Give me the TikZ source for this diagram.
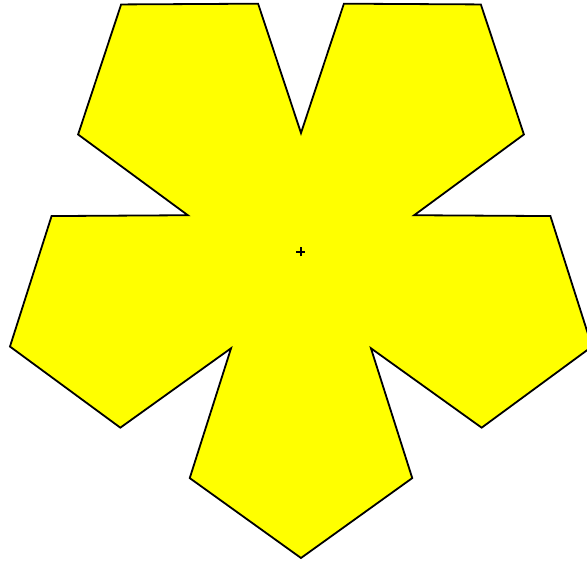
\documentclass[tikz,border=0pt]{standalone}
\definecolor{petalyellow}{RGB}{255,255,0}
\begin{document}
\begin{tikzpicture}[x=1pt,y=1pt]
  \useasboundingbox (-301,-310) rectangle (286,252);
  \clip (-301,-310) rectangle (286,252);
  % five petals round the centre
  \filldraw[fill=petalyellow, draw=black, line width=1.8pt, line join=miter]
    (90:119) -- (80.2:252) -- (54:306) -- (27.8:252) --
    (18:119) -- (8.2:252) -- (-18:306) -- (-44.2:252) --
    (-54:119) -- (-63.8:252) -- (-90:306) -- (-116.2:252) --
    (-126:119) -- (-135.8:252) -- (-162:306) -- (-188.2:252) --
    (-198:119) -- (-207.8:252) -- (-234:306) -- (-260.2:252) -- cycle;
  % centre mark
  \coordinate (centre) at (0,0);
  \draw[line width=2pt] ([xshift=-4.5pt]centre) -- ([xshift=4.5pt]centre);
  \draw[line width=2pt] ([yshift=-4.5pt]centre) -- ([yshift=4.5pt]centre);
\end{tikzpicture}
\end{document}
